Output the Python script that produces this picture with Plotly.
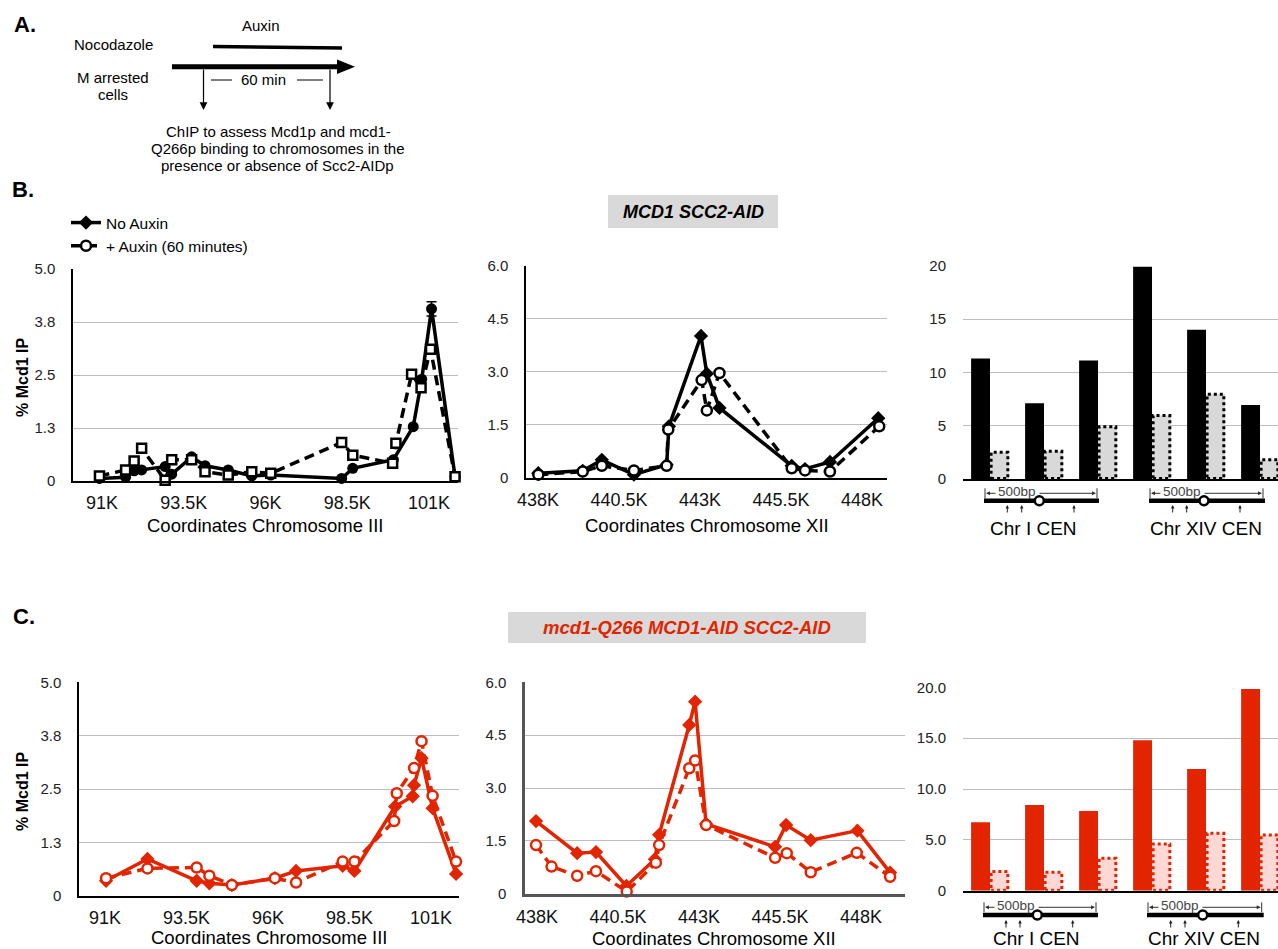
import plotly.graph_objects as go

W, H = 1278, 949
RED = "#E22400"
PINK = "#FDD8D5"
GRAY = "#D9D9D9"
FONT = "Liberation Sans, Arial, Helvetica, sans-serif"

# ---------------- data ----------------
# Panel B, Chromosome III (kb)
b3_x_noaux = [90.92, 91.72, 91.98, 92.21, 92.93, 93.13, 93.74, 94.15, 94.86, 95.58, 96.16, 98.33, 98.67, 99.91, 100.52, 100.78, 101.08, 101.80]
b3_y_noaux = [0.06, 0.09, 0.24, 0.26, 0.34, 0.16, 0.57, 0.36, 0.26, 0.12, 0.14, 0.06, 0.30, 0.50, 1.28, 2.40, 4.06, 0.10]
b3_err_noaux = [0, 0, 0, 0, 0, 0, 0, 0, 0, 0, 0, 0, 0, 0, 0, 0, 0.17, 0]
b3_x_aux = [90.92, 91.72, 91.98, 92.21, 92.93, 93.13, 93.74, 94.15, 94.86, 95.58, 96.16, 98.33, 98.67, 99.89, 99.99, 100.47, 100.76, 101.05, 101.80]
b3_y_aux = [0.12, 0.26, 0.47, 0.77, 0.02, 0.50, 0.50, 0.22, 0.14, 0.22, 0.18, 0.91, 0.61, 0.42, 0.89, 2.52, 2.20, 3.11, 0.10]

# Panel B, Chromosome XII (kb)
b12_x_noaux = [438.01, 439.38, 439.97, 440.96, 441.97, 442.04, 443.03, 443.21, 443.60, 445.83, 446.24, 447.01, 448.50]
b12_y_noaux = [0.12, 0.19, 0.50, 0.08, 0.36, 1.45, 4.01, 2.94, 1.97, 0.33, 0.24, 0.44, 1.68]
b12_x_aux = [438.01, 439.38, 439.97, 440.96, 441.97, 442.02, 443.05, 443.21, 443.60, 445.83, 446.24, 447.01, 448.53]
b12_y_aux = [0.08, 0.17, 0.33, 0.20, 0.33, 1.36, 2.76, 1.90, 2.96, 0.26, 0.20, 0.17, 1.45]

# Panel B, centromeres
cen_sites = [0, 1, 2, 3, 4, 5]
b_cen_noaux = [11.3, 7.1, 11.1, 19.9, 14.0, 6.95]
b_cen_aux = [2.5, 2.6, 4.9, 5.95, 7.95, 1.8]

# Panel C, Chromosome III
c3_x_noaux = [91.03, 92.30, 93.81, 94.20, 94.89, 96.21, 96.86, 98.29, 98.65, 99.90, 100.44, 100.48, 100.71, 101.05, 101.77]
c3_y_noaux = [0.35, 0.86, 0.35, 0.29, 0.25, 0.41, 0.58, 0.70, 0.58, 2.09, 2.33, 2.59, 3.22, 2.05, 0.51]
c3_x_aux = [91.03, 92.30, 93.81, 94.20, 94.89, 96.21, 96.86, 98.29, 98.65, 99.87, 99.95, 100.48, 100.71, 101.05, 101.77]
c3_y_aux = [0.41, 0.64, 0.66, 0.47, 0.25, 0.41, 0.31, 0.80, 0.80, 1.75, 2.40, 2.99, 3.62, 2.34, 0.80]

# Panel C, Chromosome XII
c12_x_noaux = [437.97, 439.24, 439.82, 440.76, 441.64, 441.77, 442.70, 442.88, 443.22, 445.35, 445.69, 446.45, 447.89, 448.90]
c12_y_noaux = [2.06, 1.15, 1.18, 0.22, 0.98, 1.67, 4.79, 5.45, 1.98, 1.33, 1.95, 1.52, 1.79, 0.60]
c12_x_aux = [437.97, 438.45, 439.24, 439.82, 440.77, 441.67, 441.77, 442.70, 442.88, 443.22, 445.35, 445.71, 446.45, 447.87, 448.90]
c12_y_aux = [1.38, 0.77, 0.51, 0.64, 0.06, 0.88, 1.38, 3.56, 3.78, 1.95, 1.02, 1.15, 0.61, 1.16, 0.48]

# Panel C, centromeres
c_cen_noaux = [6.72, 8.43, 7.84, 14.8, 11.97, 19.83]
c_cen_aux = [1.9, 1.81, 3.18, 4.59, 5.64, 5.48]

# tick labels
chr3_ticks = [91, 93.5, 96, 98.5, 101]
chr3_text = ["91K", "93.5K", "96K", "98.5K", "101K"]
chr12_ticks = [438, 440.5, 443, 445.5, 448]
chr12_text = ["438K", "440.5K", "443K", "445.5K", "448K"]
y5_ticks = [0, 1.25, 2.5, 3.75, 5]
y5_text = ["0", "1.3", "2.5", "3.8", "5.0"]
y6_ticks = [0, 1.5, 3, 4.5, 6]
y6_text = ["0", "1.5", "3.0", "4.5", "6.0"]
y20_ticks = [0, 5, 10, 15, 20]
y20_text_b = ["0", "5", "10", "15", "20"]
y20_text_c = ["0", "5.0", "10.0", "15.0", "20.0"]


def px(x):
    return x / W


def py(y):
    return 1 - y / H


fig = go.Figure()

DASH = "10px,6px"


def line_pair(xs, ys, xa, ya, xref, yref, color, solid_symbol, open_symbol, err=None, legend=False):
    tr = dict(x=xs, y=ys, mode="lines+markers", xaxis=xref, yaxis=yref, cliponaxis=False,
              line=dict(color=color, width=3.5),
              marker=dict(symbol=solid_symbol, size=11, color=color, line=dict(width=0)),
              name="No Auxin", showlegend=legend)
    if err is not None:
        tr["error_y"] = dict(type="data", array=err, visible=True, color=color, thickness=1.5, width=5)
    fig.add_trace(go.Scatter(**tr))
    fig.add_trace(go.Scatter(x=xa, y=ya, mode="lines+markers", xaxis=xref, yaxis=yref, cliponaxis=False,
                             line=dict(color=color, width=3.5, dash=DASH),
                             marker=dict(symbol=open_symbol, size=9 if open_symbol == "square" else 10,
                                         color="white", line=dict(color=color, width=2.5)),
                             name="+ Auxin (60 minutes)", showlegend=legend))


line_pair(b3_x_noaux, b3_y_noaux, b3_x_aux, b3_y_aux, "x", "y", "black", "circle", "square", err=b3_err_noaux)
line_pair(b12_x_noaux, b12_y_noaux, b12_x_aux, b12_y_aux, "x2", "y2", "black", "diamond", "circle", legend=True)
line_pair(c3_x_noaux, c3_y_noaux, c3_x_aux, c3_y_aux, "x4", "y4", RED, "diamond", "circle")
line_pair(c12_x_noaux, c12_y_noaux, c12_x_aux, c12_y_aux, "x5", "y5", RED, "diamond", "circle")

shapes = []
annotations = []


def bar_pair(vals_a, vals_b, xref, yref, col_a, col_b, edge):
    fig.add_trace(go.Bar(x=cen_sites, y=vals_a, xaxis=xref, yaxis=yref, marker=dict(color=col_a, line=dict(width=0)),
                         offsetgroup="a", showlegend=False))
    fig.add_trace(go.Bar(x=cen_sites, y=vals_b, xaxis=xref, yaxis=yref, marker=dict(color=col_b, line=dict(width=0)),
                         offsetgroup="b", showlegend=False))
    for i, v in zip(cen_sites, vals_b):
        shapes.append(dict(type="rect", xref=xref, yref=yref, x0=i + 0.02, x1=i + 0.33, y0=0.05, y1=v,
                           line=dict(color=edge, width=3, dash="dot"), fillcolor="rgba(0,0,0,0)", layer="above"))


bar_pair(b_cen_noaux, b_cen_aux, "x3", "y3", "black", GRAY, "black")
bar_pair(c_cen_noaux, c_cen_aux, "x6", "y6", RED, PINK, RED)

tickfont = dict(family=FONT, size=15, color="#222")
xtickfont = dict(family=FONT, size=18, color="#111")
GRID = "#BDBDBD"


def xax(dom, rng, tv=None, tt=None, line_color="black", lw=1.5, standoff=5):
    d = dict(domain=[px(dom[0]), px(dom[1])], range=rng, showgrid=False, zeroline=False, automargin=False,
             showline=True, linecolor=line_color, linewidth=lw, ticks="", fixedrange=True)
    if tv is None:
        d.update(showticklabels=False)
    else:
        d.update(tickmode="array", tickvals=tv, ticktext=tt, tickfont=xtickfont, ticklabelstandoff=standoff)
    return d


def yax(dom, rng, tv, tt, showline=True, line_color="black", lw=1.5, standoff=13):
    return dict(domain=[py(dom[1]), py(dom[0])], range=rng, tickmode="array", tickvals=tv, ticktext=tt,
                showgrid=True, gridcolor=GRID, gridwidth=1.2, zeroline=False, showline=showline, automargin=False,
                linecolor=line_color, linewidth=lw, ticks="", tickfont=tickfont, ticklabelstandoff=standoff,
                fixedrange=True)


layout_axes = dict(
    xaxis=dict(xax((73, 458), [90.11, 101.89], chr3_ticks, chr3_text), anchor="y"),
    yaxis=dict(yax((269, 481), [0, 5], y5_ticks, y5_text), anchor="x"),
    xaxis2=dict(xax((526, 887), [437.63, 448.77], chr12_ticks, chr12_text), anchor="y2"),
    yaxis2=dict(yax((265.7, 477.5), [0, 6], y6_ticks, y6_text), anchor="x2"),
    xaxis3=dict(xax((963, W), [-0.5, 5.333]), anchor="y3"),
    yaxis3=dict(yax((265.7, 479), [0, 20], y20_ticks, y20_text_b, showline=False, standoff=16), anchor="x3"),
    xaxis4=dict(xax((79, 459), [90.20, 101.86], chr3_ticks, chr3_text), anchor="y4"),
    yaxis4=dict(yax((682.3, 895.7), [0, 5], y5_ticks, y5_text), anchor="x4"),
    xaxis5=dict(xax((525, 905), [437.63, 449.36], chr12_ticks, chr12_text, line_color="#555", lw=2.5), anchor="y5"),
    yaxis5=dict(yax((682.3, 893.7), [0, 6], y6_ticks, y6_text, line_color="#555", lw=2.5), anchor="x5"),
    xaxis6=dict(xax((963, W), [-0.5, 5.333]), anchor="y6"),
    yaxis6=dict(yax((687.3, 890.7), [0, 20], y20_ticks, y20_text_c, showline=False, standoff=16), anchor="x6"),
)


def text(x, y, s, size=15, color="black", xanchor="center", angle=0, bold=False, italic=False, fam=FONT):
    if italic:
        s = "<i>" + s + "</i>"
    if bold:
        s = "<b>" + s + "</b>"
    annotations.append(dict(x=px(x), y=py(y), xref="paper", yref="paper", text=s, showarrow=False,
                            xanchor=xanchor, yanchor="middle", textangle=angle,
                            font=dict(family=fam, size=size, color=color)))


def pline(x0, y0, x1, y1, w=1.0, color="black"):
    shapes.append(dict(type="line", xref="paper", yref="paper", x0=px(x0), y0=py(y0), x1=px(x1), y1=py(y1),
                       line=dict(color=color, width=w)))


def arrow(xh, yh, ax, ay, w=1.0, size=1.0, head=2, color="black"):
    annotations.append(dict(x=px(xh), y=py(yh), xref="paper", yref="paper", ax=ax, ay=ay, text="",
                            showarrow=True, arrowhead=head, arrowsize=size, arrowwidth=w, arrowcolor=color))


# ---------- Panel A ----------
text(25, 24, "A.", size=22, bold=True)
text(261, 25, "Auxin", size=15)
pline(213, 46.5, 342, 48, w=3.5)
text(113, 45, "Nocodazole", size=15)
pline(172, 66.7, 340, 66.7, w=5)
shapes.append(dict(type="path", xref="paper", yref="paper",
                   path=f"M {px(337)},{py(59.5)} L {px(355)},{py(66.7)} L {px(337)},{py(74)} Z",
                   fillcolor="black", line=dict(width=0)))
text(113, 77, "M arrested", size=15)
text(113, 94.5, "cells", size=15)
arrow(203.5, 110, 0, -42, w=1.2, size=1.3)
arrow(330, 110, 0, -42, w=1.2, size=1.3)
pline(211, 80, 232, 80, w=1)
text(263, 80, "60 min", size=15)
pline(297, 80, 323, 80, w=1)
text(278, 131.7, "ChIP to assess Mcd1p and mcd1-", size=15)
text(277, 148.5, "Q266p binding to chromosomes in the", size=15)
text(277.5, 166, "presence or absence of Scc2-AIDp", size=15)

# ---------- Panel B / C labels ----------
text(23, 189, "B.", size=22, bold=True)
text(24, 616, "C.", size=22, bold=True)

shapes.append(dict(type="rect", xref="paper", yref="paper", x0=px(608), x1=px(778), y0=py(228), y1=py(195),
                   fillcolor=GRAY, line=dict(width=0), layer="below"))
text(693, 211.5, "MCD1 SCC2-AID", size=18, bold=True, italic=True)
shapes.append(dict(type="rect", xref="paper", yref="paper", x0=px(508), x1=px(866), y0=py(643), y1=py(612),
                   fillcolor=GRAY, line=dict(width=0), layer="below"))
text(687, 627.5, "mcd1-Q266 MCD1-AID SCC2-AID", size=18.5, color=RED, bold=True, italic=True)

text(22, 378, "% Mcd1 IP", size=16, bold=True, angle=-90)
text(22, 792, "% Mcd1 IP", size=16, bold=True, angle=-90)

text(265.5, 525, "Coordinates Chromosome III", size=18.5)
text(706.5, 525, "Coordinates Chromosome XII", size=18.5)
text(269, 937, "Coordinates Chromosome III", size=18.5)
text(714, 938, "Coordinates Chromosome XII", size=18.5)


# ---------- centromere schematics ----------
def schematic(xl, xr, ybr, yln, cx, arrows_x, yhead, lab, labx, laby):
    pline(xl, ybr - 5, xl, ybr + 5, w=1, color="#333")
    pline(xr, ybr - 5, xr, ybr + 5, w=1, color="#333")
    arrow(xl + 1, ybr, 11, 0, w=1, size=0.8, color="#333")
    arrow(xr - 1, ybr, (xl + 53) - (xr - 1), 0, w=1, size=0.8, color="#333")
    text(xl + 32, ybr - 1.5, "500bp", size=13.5, color="#444")
    pline(xl - 1, yln, xr + 2, yln, w=4.5)
    shapes.append(dict(type="circle", xref="paper", yref="paper", x0=px(cx - 4.5), x1=px(cx + 4.5),
                       y0=py(yln + 4.5), y1=py(yln - 4.5), fillcolor="white", line=dict(color="black", width=2.5)))
    for ax_ in arrows_x:
        arrow(ax_, yhead, 0, 9, w=1, size=0.7, color="#222")
    text(labx, laby, lab, size=19)


schematic(985, 1097, 493.3, 500.7, 1039.3, [1007.3, 1021.7, 1074], 505, "Chr I CEN", 1033, 528)
schematic(1150, 1263, 493.3, 500.7, 1204, [1172.7, 1186.7, 1240], 505, "Chr XIV CEN", 1206, 528)
schematic(984, 1096, 907.3, 915, 1037.3, [1006, 1020, 1072.7], 920, "Chr I CEN", 1036.5, 938)
schematic(1148, 1261.7, 907.3, 915, 1202.7, [1170.7, 1185, 1238.3], 920, "Chr XIV CEN", 1204, 938)

fig.update_layout(
    template="none",
    width=W, height=H, autosize=False,
    margin=dict(l=0, r=0, t=0, b=0, pad=0, autoexpand=False),
    paper_bgcolor="white", plot_bgcolor="white",
    barmode="group", bargap=0.3, bargroupgap=0,
    font=dict(family=FONT, color="black"),
    showlegend=True,
    legend=dict(x=px(66), y=py(206), xanchor="left", yanchor="top", bgcolor="rgba(0,0,0,0)",
                font=dict(family=FONT, size=15.5, color="black"), tracegroupgap=0, itemwidth=30),
    shapes=shapes, annotations=annotations,
    **layout_axes,
)

fig.write_html("out.html",
               config={"displayModeBar": False, "staticPlot": False},
               post_script="document.body.style.margin='0px';document.body.style.overflow='hidden';")
